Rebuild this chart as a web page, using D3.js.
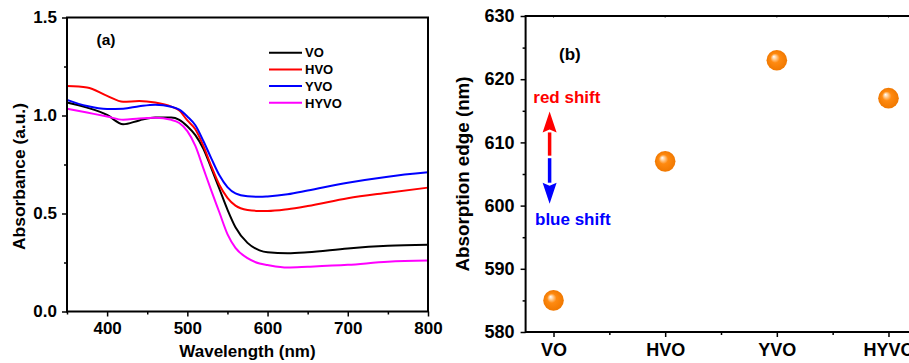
<!DOCTYPE html>
<html>
<head>
<meta charset="utf-8">
<script src="https://cdn.jsdelivr.net/npm/d3@7"></script>
<style>
  body { margin: 0; background: #fff; }
  text { font-family: "Liberation Sans", Arial, sans-serif; font-weight: bold; }
</style>
</head>
<body>
<div id="container"></div>
<script>
// panel (a) data: wavelength (nm) vs absorbance (a.u.)
const wavelengths = [350, 375, 400, 420, 440, 460, 480, 490, 500, 510, 520, 530, 540, 550, 560, 575, 590, 600, 625, 650, 700, 750, 800];
const absVO   = [1.066, 1.040, 1.003, 0.955, 0.975, 0.990, 0.990, 0.978, 0.945, 0.900, 0.830, 0.730, 0.625, 0.520, 0.430, 0.350, 0.312, 0.302, 0.297, 0.302, 0.322, 0.335, 0.340];
const absHVO  = [1.150, 1.143, 1.100, 1.070, 1.074, 1.066, 1.045, 1.025, 0.975, 0.930, 0.845, 0.740, 0.645, 0.580, 0.540, 0.518, 0.513, 0.513, 0.522, 0.538, 0.578, 0.606, 0.632];
const absYVO  = [1.080, 1.048, 1.033, 1.035, 1.047, 1.055, 1.045, 1.030, 0.995, 0.950, 0.870, 0.780, 0.695, 0.635, 0.603, 0.588, 0.585, 0.587, 0.598, 0.617, 0.657, 0.688, 0.710];
const absHYVO = [1.035, 1.015, 0.995, 0.978, 0.985, 0.988, 0.978, 0.962, 0.920, 0.845, 0.730, 0.615, 0.505, 0.395, 0.325, 0.272, 0.245, 0.237, 0.224, 0.228, 0.238, 0.254, 0.260];

const seriesNames = ['VO', 'HVO', 'YVO', 'HYVO'];
const seriesColors = ['#000000', '#ff0000', '#0000ff', '#ff00ff'];
const seriesValues = [absVO, absHVO, absYVO, absHYVO];

const xTicksA = [400, 500, 600, 700, 800];
const xMinorA = [350, 450, 550, 650, 750];
const yTicksA = [0, 0.5, 1.0, 1.5];
const yMinorA = [0.25, 0.75, 1.25];

// panel (b) data: absorption edge (nm)
const samples = ['VO', 'HVO', 'YVO', 'HYVO'];
const edges = [585, 607, 623, 617];
const yTicksB = [580, 590, 600, 610, 620, 630];
const yMinorB = [585, 595, 605, 615, 625];

const WIDTH = 909;
const HEIGHT = 363;

const svg = d3.select('#container')
  .append('svg')
  .attr('width', WIDTH)
  .attr('height', HEIGHT);

const defs = svg.append('defs');
const grad = defs.append('radialGradient')
  .attr('id', 'ball')
  .attr('cx', '50%').attr('cy', '50%').attr('r', '50%')
  .attr('fx', '35%').attr('fy', '32%');
grad.append('stop').attr('offset', '0%').attr('stop-color', '#ffffff');
grad.append('stop').attr('offset', '18%').attr('stop-color', '#ffd2a0');
grad.append('stop').attr('offset', '45%').attr('stop-color', '#ff8a10');
grad.append('stop').attr('offset', '100%').attr('stop-color', '#f07800');

// ---------- panel (a) ----------
const xA = d3.scaleLinear().domain([350, 800]).range([67, 428]);
const yA = d3.scaleLinear().domain([0, 1.5]).range([311.5, 17.5]);

const gA = svg.append('g');

function styleAxis(g, size) {
  g.select('.domain').remove();
  g.selectAll('line').attr('stroke', '#000').attr('stroke-width', 1.5);
  g.selectAll('text').attr('fill', '#000').style('font-size', size + 'px');
}

gA.append('g')
  .attr('transform', `translate(0,${yA(0)})`)
  .call(d3.axisBottom(xA).tickValues(xMinorA).tickSize(3).tickFormat(''))
  .call(g => styleAxis(g, 17));
gA.append('g')
  .attr('transform', `translate(0,${yA(0)})`)
  .call(d3.axisBottom(xA).tickValues(xTicksA).tickSize(5).tickPadding(5.5).tickFormat(d3.format('d')))
  .call(g => styleAxis(g, 17));
gA.append('g')
  .attr('transform', `translate(${xA(350)},0)`)
  .call(d3.axisLeft(yA).tickValues(yMinorA).tickSize(3).tickFormat(''))
  .call(g => styleAxis(g, 17));
gA.append('g')
  .attr('transform', `translate(${xA(350)},0)`)
  .call(d3.axisLeft(yA).tickValues(yTicksA).tickSize(5).tickPadding(5).tickFormat(d3.format('.1f')))
  .call(g => styleAxis(g, 17));

const line = d3.line()
  .x((d, i) => xA(wavelengths[i]))
  .y(d => yA(d))
  .curve(d3.curveMonotoneX);

gA.selectAll('path.curve')
  .data(seriesValues)
  .enter()
  .append('path')
    .attr('class', 'curve')
    .attr('d', d => line(d))
    .attr('fill', 'none')
    .attr('stroke', (d, i) => seriesColors[i])
    .attr('stroke-width', 2);

gA.append('rect')
  .attr('x', xA(350)).attr('y', yA(1.5))
  .attr('width', xA(800) - xA(350)).attr('height', yA(0) - yA(1.5))
  .attr('fill', 'none').attr('stroke', '#000').attr('stroke-width', 2);

// legend
const legend = gA.selectAll('g.legend')
  .data(seriesNames)
  .enter()
  .append('g')
    .attr('class', 'legend')
    .attr('transform', (d, i) => `translate(269,${52.7 + i * 16.7})`);
legend.append('line')
  .attr('x1', 0).attr('x2', 33)
  .attr('stroke', (d, i) => seriesColors[i])
  .attr('stroke-width', 2);
legend.append('text')
  .attr('x', 36).attr('y', 4.7)
  .style('font-size', '13px')
  .text(d => d);

gA.append('text').attr('x', 96.5).attr('y', 45).style('font-size', '15.5px').text('(a)');

gA.append('text')
  .attr('x', xA(575)).attr('y', 356.5)
  .attr('text-anchor', 'middle')
  .style('font-size', '17px')
  .text('Wavelength (nm)');
gA.append('text')
  .attr('transform', 'translate(24.5,176.5) rotate(-90)')
  .attr('text-anchor', 'middle')
  .style('font-size', '17.4px')
  .text('Absorbance (a.u.)');

// ---------- panel (b) ----------
const xB = d3.scaleLinear().domain([-0.25, 3.25]).range([525.6, 916.4]);
const yB = d3.scaleLinear().domain([580, 630]).range([332, 16]);

const gB = svg.append('g');

gB.append('g')
  .attr('transform', `translate(0,${yB(580)})`)
  .call(d3.axisBottom(xB).tickValues([0.5, 1.5, 2.5]).tickSize(3).tickFormat(''))
  .call(g => styleAxis(g, 18));
gB.append('g')
  .attr('transform', `translate(0,${yB(580)})`)
  .call(d3.axisBottom(xB).tickValues([0, 1, 2, 3]).tickSize(5).tickPadding(6).tickFormat(i => samples[i]))
  .call(g => styleAxis(g, 18));
gB.append('g')
  .attr('transform', `translate(${xB(-0.25)},0)`)
  .call(d3.axisLeft(yB).tickValues(yMinorB).tickSize(3).tickFormat(''))
  .call(g => styleAxis(g, 18));
gB.append('g')
  .attr('transform', `translate(${xB(-0.25)},0)`)
  .call(d3.axisLeft(yB).tickValues(yTicksB).tickSize(5).tickPadding(6).tickFormat(d3.format('d')))
  .call(g => styleAxis(g, 18));

// small inward ticks on the top border
gB.selectAll('line.topTick')
  .data([0, 1, 2, 3])
  .enter()
  .append('line')
    .attr('class', 'topTick')
    .attr('x1', d => xB(d)).attr('x2', d => xB(d))
    .attr('y1', yB(630)).attr('y2', yB(630) + 2)
    .attr('stroke', '#888').attr('stroke-width', 1);

gB.append('rect')
  .attr('x', xB(-0.25)).attr('y', yB(630))
  .attr('width', xB(3.25) - xB(-0.25)).attr('height', yB(580) - yB(630))
  .attr('fill', 'none').attr('stroke', '#000').attr('stroke-width', 2);

gB.selectAll('circle.ball')
  .data(edges)
  .enter()
  .append('circle')
    .attr('class', 'ball')
    .attr('cx', (d, i) => xB(i))
    .attr('cy', d => yB(d))
    .attr('r', 10.3)
    .attr('fill', 'url(#ball)');

// shift arrows
const arrowX = xB(-0.035);
function arrow(fromVal, toVal, color) {
  const y0 = yB(fromVal), y1 = yB(toVal);
  const dir = y1 < y0 ? -1 : 1;
  const headLen = 21, headHalf = 7;
  const yBase = y1 - dir * headLen;
  gB.append('line')
    .attr('x1', arrowX).attr('x2', arrowX)
    .attr('y1', y0).attr('y2', yBase)
    .attr('stroke', color).attr('stroke-width', 3.5);
  gB.append('path')
    .attr('d', `M${arrowX},${y1} L${arrowX - headHalf},${yBase} L${arrowX},${yBase + dir * 3} L${arrowX + headHalf},${yBase} Z`)
    .attr('fill', color);
}
arrow(607.9, 614.9, '#ff0000');
arrow(607.5, 600.3, '#0000ff');

gB.append('text').attr('x', 533.3).attr('y', 103.3).attr('fill', '#ff0000').style('font-size', '17px').text('red shift');
gB.append('text').attr('x', 535).attr('y', 224.5).attr('fill', '#0000ff').style('font-size', '17px').text('blue shift');
gB.append('text').attr('x', 559).attr('y', 60).style('font-size', '17px').text('(b)');

gB.append('text')
  .attr('transform', `translate(468.5,${(yB(580) + yB(630)) / 2}) rotate(-90)`)
  .attr('text-anchor', 'middle')
  .style('font-size', '18.8px')
  .text('Absorption edge (nm)');
</script>
</body>
</html>
